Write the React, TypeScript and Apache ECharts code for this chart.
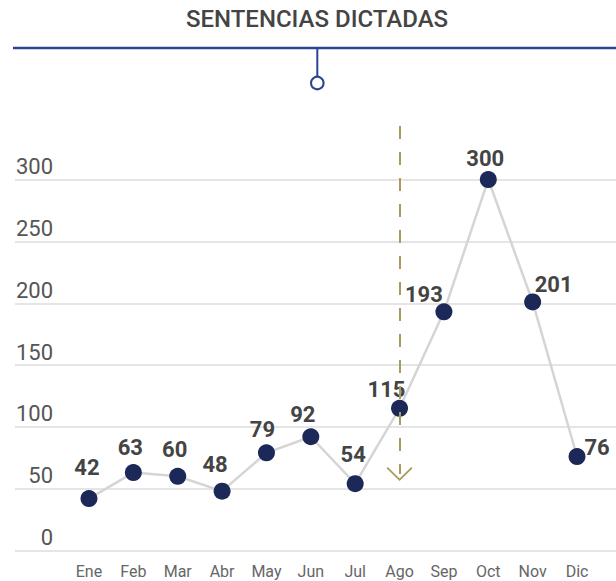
import React, { useEffect, useRef } from "react";
import * as echarts from "echarts";

const months = ["Ene", "Feb", "Mar", "Abr", "May", "Jun", "Jul", "Ago", "Sep", "Oct", "Nov", "Dic"];
const sentencias = [42, 63, 60, 48, 79, 92, 54, 115, 193, 300, 201, 76];
const yTicks = { min: 0, max: 300, interval: 50 };
const markerMonth = "Ago";
const markerTop = 343.3;
const markerBottom = 61.9;
const title = "SENTENCIAS DICTADAS";

// label placement (dx, dy) relative to each point centre
const labelOffsets: [number, number][] = [
  [-2, -31], [-3, -25], [-3, -27], [-7, -27], [-4, -23], [-8, -22],
  [-2, -29], [-13, -19], [-20, -17], [-3, -21], [21, -17], [20, -9],
];

const FONT = "Roboto, 'Noto Sans', sans-serif";
const BLUE = "#2a4597";

export default function App() {
  const ref = useRef<HTMLDivElement>(null);
  useEffect(() => {
    if (!ref.current) return;
    const chart = echarts.init(ref.current, null, { renderer: "svg" });
    const seriesData = sentencias.map((v, i) => ({
      value: v,
      label: { offset: labelOffsets[i] },
    }));
    chart.setOption({
      animation: false,
      backgroundColor: "#fff",
      textStyle: { fontFamily: FONT },
      grid: [
        { left: 15, right: 0, top: 179.7, bottom: 30.5 },
        { left: 66.8, right: 16.8, top: 126, bottom: 30.5 },
      ],
      xAxis: [
        { gridIndex: 0, type: "value", show: false },
        {
          gridIndex: 1,
          type: "category",
          data: months,
          boundaryGap: true,
          axisLine: { show: false },
          axisTick: { show: false },
          axisLabel: { fontSize: 16, color: "#666", margin: 13, fontFamily: FONT },
        },
      ],
      yAxis: [
        {
          gridIndex: 0,
          type: "value",
          min: yTicks.min,
          max: yTicks.max,
          interval: yTicks.interval,
          axisLine: { show: false },
          axisTick: { show: false },
          splitLine: { lineStyle: { color: "#dcdcdc", width: 1.5 } },
          axisLabel: {
            inside: true,
            align: "right",
            verticalAlign: "bottom",
            margin: 38,
            padding: [0, 0, 2, 0],
            fontSize: 22,
            color: "#555",
            fontFamily: FONT,
          },
        },
        { gridIndex: 1, type: "value", min: 0, max: markerTop, show: false, splitLine: { show: false } },
      ],
      series: [
        {
          type: "line",
          xAxisIndex: 1,
          yAxisIndex: 1,
          data: seriesData,
          symbol: "circle",
          symbolSize: 17,
          itemStyle: { color: "#1b2858" },
          lineStyle: { color: "#d5d5d5", width: 2.5 },
          label: {
            show: true,
            position: "inside",
            fontSize: 22,
            fontWeight: "bold",
            color: "#444",
            fontFamily: FONT,
          },
          markLine: {
            silent: true,
            z: 10,
            symbol: ["none", "path://M10,0 L20,10 L19,11 L10,2 L1,11 L0,10 Z"],
            symbolSize: [26, 14],
            label: { show: false },
            lineStyle: { color: "#a99b5e", width: 2, type: [13, 13] },
            data: [[{ coord: [markerMonth, markerTop] }, { coord: [markerMonth, markerBottom] }]],
          },
        },
      ],
      graphic: [
        {
          type: "text",
          x: 317,
          y: 7,
          style: {
            text: title,
            font: `500 24px ${FONT}`,
            fill: "#444",
            textAlign: "center",
            textVerticalAlign: "top",
          },
        },
        { type: "line", shape: { x1: 13, y1: 48, x2: 616, y2: 48 }, style: { stroke: BLUE, lineWidth: 2.3 } },
        { type: "line", shape: { x1: 317.3, y1: 48, x2: 317.3, y2: 76.5 }, style: { stroke: BLUE, lineWidth: 2 } },
        { type: "circle", shape: { cx: 317.3, cy: 83, r: 6.3 }, style: { fill: "#fff", stroke: BLUE, lineWidth: 2 } },
      ],
    });
    return () => chart.dispose();
  }, []);
  return <div ref={ref} style={{ position: "fixed", left: 0, top: 0, width: 616, height: 581 }} />;
}
